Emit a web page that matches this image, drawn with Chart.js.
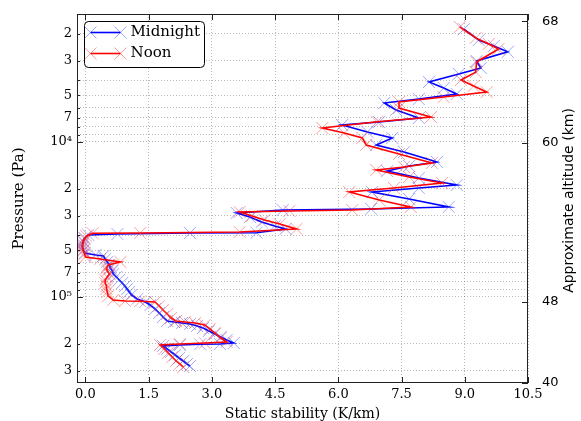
<!DOCTYPE html>
<html>
<head>
<meta charset="utf-8">
<script src="https://cdn.jsdelivr.net/npm/chart.js@4.4.1/dist/chart.umd.min.js"></script>
<style>
  html, body { margin: 0; padding: 0; background: #fff; }
  #wrap { width: 581px; height: 421px; }
</style>
</head>
<body>
<div id="wrap"><canvas id="stability" width="581" height="421"></canvas></div>
<script>
// Static stability profiles, midnight vs noon, against pressure (Pa)
const midnightStability = [
  8.98, 9.33, 9.69, 10.02, 9.28, 9.38, 8.86, 8.15, 8.50, 8.81,
  7.91, 7.09, 7.37, 7.91, 6.97, 6.09, 6.69, 7.28, 6.90, 7.56,
  8.34, 7.68, 7.16, 7.91, 8.81, 7.91, 6.80, 7.68, 8.62, 6.78,
  4.68, 3.59, 3.90, 4.18, 4.49, 4.75, 4.06, 2.48, 0.76, 0.07,
  -0.02, -0.05, -0.07, -0.07, -0.05, -0.02, 0.24, 0.43, 0.47, 0.52,
  0.57, 0.59, 0.64, 0.66, 0.73, 0.80, 0.87, 0.94, 0.99, 1.04,
  1.09, 1.23, 1.42, 1.54, 1.65, 1.75, 1.84, 1.94, 2.10, 2.29,
  2.48, 2.65, 2.79, 2.93, 3.07, 3.21, 3.35, 3.52, 3.19, 2.72,
  2.24, 1.84, 1.94, 2.03, 2.13, 2.22, 2.32, 2.41, 2.48
];
const midnightPressure = [
  1870, 2200, 2400, 2620, 3000, 3330, 3640, 4100, 4490, 4900,
  5280, 5600, 6220, 7000, 7430, 7770, 8610, 9420, 10450, 11600,
  13460, 14290, 15390, 17070, 18940, 19810, 21020, 23330, 26260, 27040,
  27480, 28710, 30480, 32810, 34830, 36390, 38500, 38650, 39260, 39810,
  41600, 43550, 45500, 47530, 49770, 52000, 53580, 54330, 56890, 59430,
  62170, 65010, 67970, 71090, 74300, 77620, 81280, 84920, 88760, 92810,
  97060, 103000, 107700, 112700, 119400, 126900, 134600, 142800, 144900, 147100,
  149300, 153900, 158500, 165600, 173300, 181200, 189400, 198200, 201100, 202000,
  204100, 207200, 216300, 226300, 236600, 247600, 258800, 270600, 278800
];
const noonStability = [
  8.88, 9.26, 9.57, 9.80, 9.28, 9.26, 8.91, 9.21, 9.52, 8.50,
  7.44, 7.44, 8.20, 6.92, 5.62, 6.14, 6.57, 6.66, 7.44, 8.22,
  7.56, 6.90, 7.68, 8.46, 7.32, 6.26, 6.97, 7.72, 6.33, 4.84,
  3.66, 3.95, 4.25, 4.61, 5.01, 3.66, 1.30, 0.17,
  0.02, -0.02, -0.05, -0.07, -0.07, -0.05, -0.02, 0.00, 0.35, 0.83,
  0.54, 0.50, 0.52, 0.57, 0.52, 0.47, 0.47, 0.50, 0.50, 0.52,
  0.54, 0.66, 0.94, 1.30, 1.65, 1.75, 1.84, 1.94, 2.03, 2.15,
  2.36, 2.60, 2.83, 2.95, 3.07, 3.21, 3.35, 2.83, 2.24, 1.77,
  1.87, 1.96, 2.06, 2.15, 2.24, 2.32
];
const noonPressure = [
  1810, 2130, 2330, 2510, 3050, 3540, 3980, 4350, 4760, 5130,
  5520, 6040, 6900, 7400, 8120, 8750, 9420, 10450, 11950, 13660,
  14490, 15160, 16820, 18400, 19810, 21020, 23660, 26260, 27480, 27860,
  28310, 29990, 31870, 33810, 36390, 38080, 38650, 38800,
  40390, 42240, 44190, 46190, 48300, 50500, 52820, 55210, 56890, 59430,
  62170, 65010, 67970, 71090, 74300, 77620, 81280, 84920, 88760, 92810,
  98630, 104500, 106200, 106500, 107700, 114300, 121300, 128800, 136600, 142800,
  144900, 147100, 151600, 160800, 170600, 184000, 195200, 198200, 201100, 204100,
  216300, 229600, 243900, 258800, 270600, 283100
];

const stabilityTicks = [0, 1.5, 3, 4.5, 6, 7.5, 9, 10.5];
const pressureTicks = [
  2000, 3000, 4000, 5000, 6000, 7000, 8000, 9000,
  10000, 20000, 30000, 40000, 50000, 60000, 70000, 80000, 90000,
  100000, 200000, 300000
];
const altitudeLabels = [68, 60, 48, 40];
const altitudePressure = [1660, 10150, 107700, 359000];

const P_MIN = 1493;
const P_MAX = 359000;

const SERIF = "'DejaVu Serif', serif";
const SANS = "'DejaVu Sans', sans-serif";
const SUP = { 3: '\u00b3', 4: '\u2074', 5: '\u2075' };

Chart.defaults.font.family = SERIF;
Chart.defaults.color = '#000';

function toPoints(xs, ys) {
  return xs.map((x, i) => ({ x: x, y: ys[i] }));
}

function decadeOf(v) {
  return Math.floor(Math.log10(v) + 1e-9);
}

function leadDigit(v) {
  return Math.round(v / Math.pow(10, decadeOf(v)));
}

// only 2, 3, 5, 7 and the decades carry labels
function pressureLabel(value) {
  const lead = leadDigit(value);
  if (lead === 1) return '10' + SUP[decadeOf(value)];
  return [2, 3, 5, 7].includes(lead) ? String(lead) : '';
}

function drawCross(ctx, x, y, r) {
  ctx.moveTo(x - r, y - r);
  ctx.lineTo(x + r, y + r);
  ctx.moveTo(x - r, y + r);
  ctx.lineTo(x + r, y - r);
}

// frame with inward tick marks
const frameTicks = {
  id: 'frameTicks',
  afterDatasetsDraw(chart) {
    const { ctx, chartArea: a, scales } = chart;
    ctx.save();
    ctx.strokeStyle = '#222';
    ctx.lineWidth = 1;
    ctx.beginPath();
    stabilityTicks.forEach(v => {
      const x = Math.round(scales.x.getPixelForValue(v)) + 0.5;
      ctx.moveTo(x, a.bottom);
      ctx.lineTo(x, a.bottom - 6);
      ctx.moveTo(x, a.top);
      ctx.lineTo(x, a.top + 6);
    });
    pressureTicks.forEach(v => {
      const y = Math.round(scales.y.getPixelForValue(v)) + 0.5;
      const len = leadDigit(v) === 1 ? 6 : 3;
      ctx.moveTo(a.left, y);
      ctx.lineTo(a.left + len, y);
    });
    altitudePressure.forEach(v => {
      const y = Math.round(scales.alt.getPixelForValue(v)) + 0.5;
      ctx.moveTo(a.right, y);
      ctx.lineTo(a.right - 6, y);
    });
    ctx.stroke();
    ctx.strokeRect(a.left + 0.5, a.top + 0.5, a.width - 1, a.height - 1);
    ctx.restore();
  }
};

// boxed legend in the upper left corner, line with a cross at each end
const boxLegend = {
  id: 'boxLegend',
  afterDraw(chart) {
    const { ctx, chartArea: a } = chart;
    const left = a.left + 7.5;
    const top = a.top + 7.5;
    ctx.save();
    ctx.beginPath();
    ctx.roundRect(left, top, 120, 46, 4);
    ctx.fillStyle = '#fff';
    ctx.fill();
    ctx.strokeStyle = '#000';
    ctx.lineWidth = 1;
    ctx.stroke();

    chart.data.datasets.forEach((ds, i) => {
      const y = top + 11 + i * 21;
      const x0 = left + 6;
      const x1 = left + 36;
      ctx.beginPath();
      ctx.moveTo(x0, y);
      ctx.lineTo(x1, y);
      ctx.strokeStyle = ds.borderColor;
      ctx.lineWidth = ds.borderWidth;
      ctx.stroke();
      ctx.beginPath();
      drawCross(ctx, x0, y, 6);
      drawCross(ctx, x1, y, 6);
      ctx.strokeStyle = ds.pointBorderColor;
      ctx.lineWidth = 1;
      ctx.stroke();
      ctx.fillStyle = '#000';
      ctx.font = '15px ' + SERIF;
      ctx.textBaseline = 'middle';
      ctx.fillText(ds.label, left + 46, y);
    });
    ctx.restore();
  }
};

// right-hand axis title, read bottom to top
const altitudeTitle = {
  id: 'altitudeTitle',
  afterDraw(chart) {
    const { ctx, chartArea: a } = chart;
    ctx.save();
    ctx.translate(569, (a.top + a.bottom) / 2 + 2);
    ctx.rotate(-Math.PI / 2);
    ctx.font = '14px ' + SANS;
    ctx.fillStyle = '#000';
    ctx.textAlign = 'center';
    ctx.textBaseline = 'middle';
    ctx.fillText('Approximate altitude (km)', 0, 0);
    ctx.restore();
  }
};

const gridStyle = { color: 'rgba(0,0,0,0.28)', lineWidth: 1, drawTicks: false };

new Chart(document.getElementById('stability'), {
  type: 'scatter',
  data: {
    datasets: [
      {
        label: 'Midnight',
        data: toPoints(midnightStability, midnightPressure),
        showLine: true,
        borderColor: '#0000ff',
        borderWidth: 1.6,
        pointStyle: 'crossRot',
        pointRadius: 8.5,
        pointBorderWidth: 1,
        pointBorderColor: 'rgba(40,60,255,0.45)',
        pointBackgroundColor: 'rgba(0,0,0,0)',
        order: 1
      },
      {
        label: 'Noon',
        data: toPoints(noonStability, noonPressure),
        showLine: true,
        borderColor: '#ff0000',
        borderWidth: 1.6,
        pointStyle: 'crossRot',
        pointRadius: 8.5,
        pointBorderWidth: 1,
        pointBorderColor: 'rgba(255,40,40,0.45)',
        pointBackgroundColor: 'rgba(0,0,0,0)',
        order: 0
      }
    ]
  },
  options: {
    responsive: false,
    animation: false,
    devicePixelRatio: 1,
    layout: { padding: { top: 14, left: 0, right: 0, bottom: 0 } },
    plugins: {
      legend: { display: false },
      tooltip: { enabled: false }
    },
    scales: {
      x: {
        type: 'linear',
        min: -0.2,
        max: 10.5,
        afterBuildTicks: s => { s.ticks = stabilityTicks.map(v => ({ value: v })); },
        afterFit: s => { s.height = 38; },
        ticks: {
          callback: v => v.toFixed(1),
          autoSkip: false,
          maxRotation: 0,
          padding: 4,
          color: '#000',
          font: { size: 13 }
        },
        grid: gridStyle,
        border: { display: false, dash: [1, 2] },
        title: {
          display: true,
          text: 'Static stability (K/km)',
          color: '#000',
          font: { size: 14 },
          padding: { top: 0, bottom: -2 }
        }
      },
      y: {
        type: 'logarithmic',
        position: 'left',
        reverse: true,
        min: P_MIN,
        max: P_MAX,
        afterBuildTicks: s => { s.ticks = pressureTicks.map(v => ({ value: v })); },
        afterFit: s => { s.width = 77; },
        ticks: {
          callback: pressureLabel,
          autoSkip: false,
          padding: 5,
          color: '#000',
          font: { size: 13 }
        },
        grid: gridStyle,
        border: { display: false, dash: [1, 2] },
        title: {
          display: true,
          text: 'Pressure (Pa)',
          color: '#000',
          font: { size: 15 },
          padding: { top: 10, bottom: 0 }
        }
      },
      alt: {
        type: 'logarithmic',
        position: 'right',
        reverse: true,
        min: P_MIN,
        max: P_MAX,
        afterBuildTicks: s => { s.ticks = altitudePressure.map(v => ({ value: v })); },
        afterFit: s => { s.width = 53; },
        ticks: {
          callback: (v, i) => String(altitudeLabels[i]),
          autoSkip: false,
          padding: 6,
          color: '#000',
          font: { family: SANS, size: 13 }
        },
        grid: { display: false },
        border: { display: false }
      }
    }
  },
  plugins: [frameTicks, boxLegend, altitudeTitle]
});
</script>
</body>
</html>
